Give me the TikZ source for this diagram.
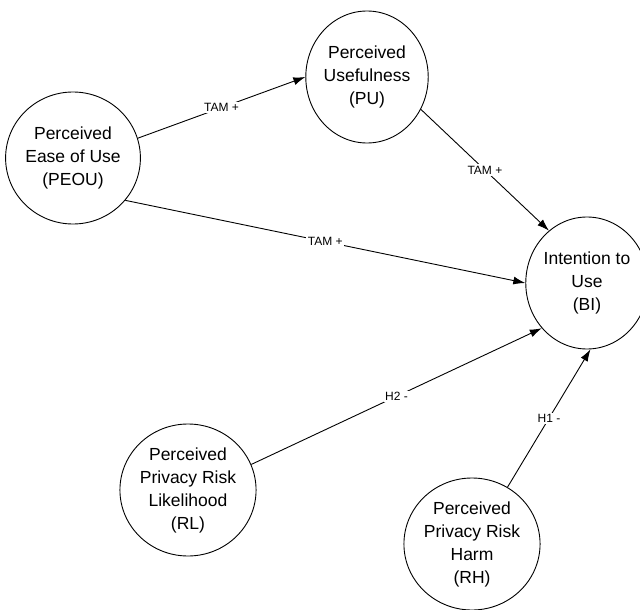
\documentclass[tikz,border=0pt]{standalone}
\usepackage{fontspec}
\setmainfont{Liberation Sans}
\usetikzlibrary{shapes.geometric,arrows.meta}

\begin{document}
\begin{tikzpicture}[x=1pt,y=-1pt,
  construct/.style={ellipse,draw,line width=0.9pt,minimum width=122pt,minimum height=132pt,
    inner sep=0pt,align=center,font=\fontsize{17.5}{23}\selectfont},
  link/.style={line width=0.9pt,-{Latex[length=12pt,width=8pt]}},
  sign/.style={midway,fill=white,inner sep=1.5pt,font=\fontsize{12}{14}\selectfont}]
\useasboundingbox (0,0) rectangle (640,610);
\node (c-PEOU) at (73,158) [construct] {Perceived\\Ease of Use\\(PEOU)};
\node (c-PU) at (367,77) [construct] {Perceived\\Usefulness\\(PU)};
\node (c-BI) at (587,283) [construct] {Intention to\\Use\\(BI)};
\node (c-RL) at (188,490) [construct] {Perceived\\Privacy Risk\\Likelihood\\(RL)};
\node (c-RH) at (472,544) [construct] {Perceived\\Privacy Risk\\Harm\\(RH)};
\draw[link] (c-PEOU.17) -- (c-PU.west) node[sign] {TAM +};
\draw[link] (c-PU.-31) -- (c-BI.126) node[sign] {TAM +};
\draw[link] (c-PEOU.-39) -- (c-BI.west) node[sign] {TAM +};
\draw[link] (c-RL.22) -- (c-BI.-135) node[sign] {H2 -};
\draw[link] (c-RH.58) -- (c-BI.-87) node[sign] {H1 -};
\end{tikzpicture}
\end{document}
